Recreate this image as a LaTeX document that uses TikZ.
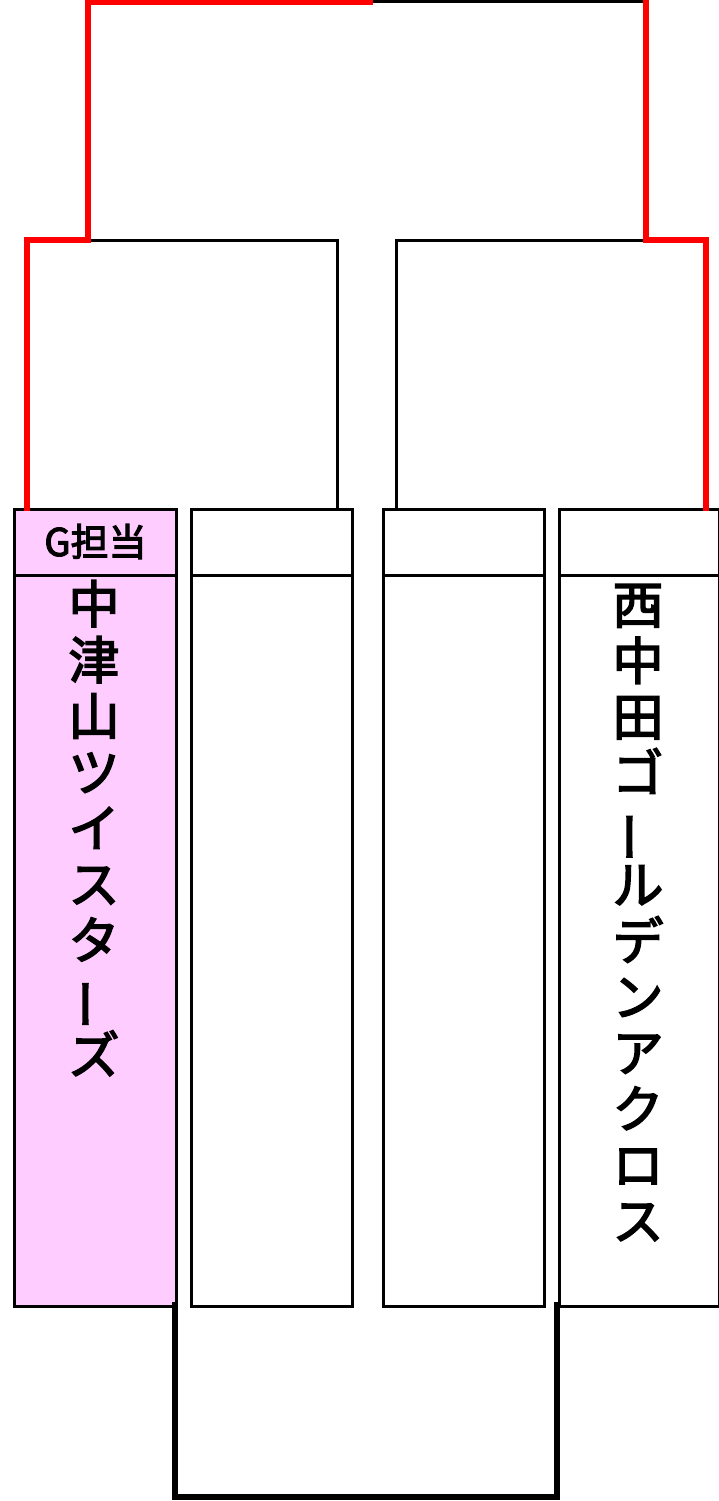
\documentclass[tikz,border=0pt]{standalone}
\usepackage{fontspec}
\usepackage{graphicx}
\setmainfont{Noto Sans CJK JP}
\newfontfamily\jpfont{Noto Sans CJK JP}[FakeBold=3]
\definecolor{pinkfill}{RGB}{255,204,255}
\definecolor{bred}{RGB}{255,0,0}
\tikzset{
  colbox/.style={draw=black, line width=3pt, anchor=north west, inner sep=0pt},
  thinline/.style={draw=black, line width=3pt, line cap=rect},
  redline/.style={draw=bred, line width=6pt, line cap=rect, line join=miter},
  thickline/.style={draw=black, line width=6pt, line cap=rect, line join=miter},
  vtext/.style={anchor=north, align=center, inner sep=0pt, font=\jpfont\fontsize{51}{56}\selectfont},
}
\newcommand{\vbar}{\rotatebox[origin=c]{90}{ー}}
\begin{document}
\begin{tikzpicture}[x=1pt,y=-1pt]
\useasboundingbox (0,0) rectangle (719,1501);
% column bodies
\node[colbox, fill=pinkfill, minimum width=162pt, minimum height=731pt] (b1) at (13,574) {};
\node[colbox, minimum width=161pt, minimum height=731pt] (b2) at (190,574) {};
\node[colbox, minimum width=161pt, minimum height=731pt] (b3) at (382,574) {};
\node[colbox, minimum width=160pt, minimum height=731pt] (b4) at (558,574) {};
% headers
\node[colbox, fill=pinkfill, minimum width=162pt, minimum height=66pt] (h1) at (13,508) {};
\node[colbox, minimum width=161pt, minimum height=66pt] (h2) at (190,508) {};
\node[colbox, minimum width=161pt, minimum height=66pt] (h3) at (382,508) {};
\node[colbox, minimum width=160pt, minimum height=66pt] (h4) at (558,508) {};
\node[font=\jpfont\fontsize{38}{40}\selectfont, inner sep=0pt] (g) at ([yshift=1pt]h1.center) {G担当};
% team names
\node[vtext] (t1) at (94,580) {中\\津\\山\\ツ\\イ\\ス\\タ\\\vbar\\ズ};
\node[vtext] (t4) at (638,584) {西\\中\\田\\ゴ\\\vbar\\ル\\デ\\ン\\ア\\ク\\ロ\\ス};
% bracket points
\coordinate (l1) at (27,508);
\coordinate (l2) at (27,240);
\coordinate (l3) at (88,240);
\coordinate (l4) at (88,2);
\coordinate (tm) at (370,2);
\coordinate (r4) at (646,2);
\coordinate (r3) at (646,240);
\coordinate (r2) at (706,240);
\coordinate (r1) at (706,508);
\coordinate (lb) at (337,240);
\coordinate (lb2) at (337,508);
\coordinate (rb) at (396,240);
\coordinate (rb2) at (396,508);
\coordinate (d1) at (175,1305);
\coordinate (d2) at (175,1497);
\coordinate (d3) at (557,1497);
\coordinate (d4) at (557,1305);
% black thin bracket lines
\draw[thinline] (l3) -- (lb) -- (lb2);
\draw[thinline] (rb2) -- (rb) -- (r3);
\draw[thinline] (tm) -- (r4);
% red lines
\draw[redline] (l1) -- (l2) -- (l3) -- (l4) -- (tm);
\draw[redline] (r4) -- (r3) -- (r2) -- (r1);
% bottom bracket
\draw[thickline] (d1) -- (d2) -- (d3) -- (d4);
\end{tikzpicture}
\end{document}
